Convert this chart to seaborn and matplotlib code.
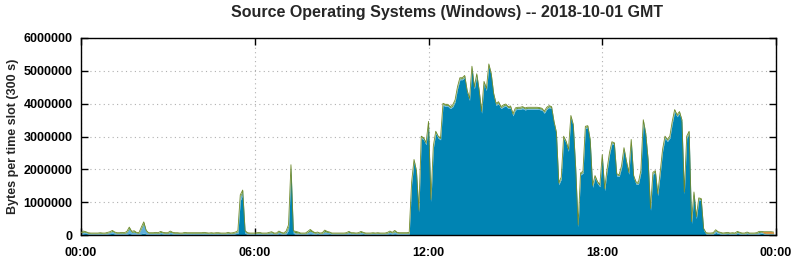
import numpy as np
import pandas as pd
import matplotlib
matplotlib.use("Agg")
import matplotlib.pyplot as plt
import seaborn as sns

# ---- data (values in millions of bytes per 300 s slot, 288 slots) ----
slot_minutes = 5
n_slots = 288

windows_main = [
    0.02,0.04,0.05,0.03,0.02,0.02,0.02,0.02,0.03,0.02,0.02,0.03,
    0.04,0.05,0.03,0.02,0.02,0.03,0.02,0.03,0.05,0.03,0.03,0.02,
    0.02,0.04,0.06,0.03,0.02,0.02,0.02,0.03,0.02,0.04,0.03,0.02,
    0.02,0.04,0.03,0.02,0.02,0.02,0.02,0.03,0.02,0.02,0.03,0.02,
    0.02,0.02,0.02,0.03,0.02,0.02,0.02,0.02,0.03,0.02,0.02,0.02,
    0.02,0.03,0.02,0.02,0.04,0.05,1.05,1.22,0.05,0.02,0.02,0.02,
    0.02,0.02,0.03,0.02,0.02,0.02,0.03,0.02,0.02,0.02,0.04,0.03,
    0.02,0.03,0.15,2.00,0.05,0.02,0.03,0.02,0.02,0.02,0.03,0.04,
    0.03,0.02,0.04,0.02,0.02,0.02,0.03,0.04,0.02,0.02,0.02,0.02,
    0.02,0.02,0.02,0.03,0.03,0.02,0.02,0.02,0.03,0.04,0.02,0.02,
    0.02,0.02,0.02,0.03,0.02,0.02,0.02,0.03,0.04,0.03,0.04,0.03,
    0.02,0.02,0.02,0.03,0.03,1.55,2.24,1.90,0.70,2.95,2.90,2.75,
    3.40,1.02,2.65,3.10,2.95,2.90,3.95,3.92,3.92,3.85,3.90,4.05,
    4.45,4.73,4.73,4.80,4.35,4.10,5.08,4.45,4.85,4.35,3.71,4.62,
    4.40,5.15,4.85,4.25,3.95,4.00,3.85,3.90,3.93,3.85,3.87,3.63,
    3.81,3.83,3.83,3.85,3.81,3.83,3.83,3.83,3.83,3.83,3.82,3.80,
    3.71,3.83,3.88,3.85,3.40,3.07,1.53,1.70,2.95,2.80,2.55,3.58,
    3.30,1.98,0.25,1.83,1.88,3.25,3.27,2.85,1.45,1.75,1.57,1.47,
    2.39,1.35,1.95,2.45,2.78,2.75,1.80,1.78,2.05,2.60,2.20,1.85,
    2.85,1.75,1.55,1.55,1.90,3.45,3.05,2.25,0.75,1.85,1.90,1.20,
    1.85,2.55,2.95,2.85,2.95,3.40,3.76,3.60,3.70,3.45,1.25,2.95,
    3.10,0.35,1.25,0.50,1.07,1.05,0.15,0.03,0.02,0.02,0.03,0.08,
    0.05,0.03,0.02,0.03,0.04,0.02,0.02,0.02,0.05,0.03,0.02,0.02,
    0.04,0.02,0.02,0.02,0.02,0.03,0.06,0.03,0.02,0.02,0.02,0.02,
]

windows_light = [
    0.03,0.05,0.03,0.02,0.02,0.02,0.02,0.02,0.02,0.02,0.02,0.03,
    0.04,0.06,0.04,0.03,0.03,0.03,0.03,0.05,0.14,0.05,0.06,0.04,
    0.03,0.15,0.28,0.08,0.03,0.03,0.03,0.03,0.03,0.04,0.03,0.03,
    0.03,0.05,0.03,0.03,0.03,0.02,0.02,0.03,0.03,0.03,0.02,0.03,
    0.03,0.03,0.03,0.03,0.03,0.02,0.03,0.02,0.02,0.03,0.02,0.02,
    0.02,0.03,0.02,0.03,0.03,0.05,0.12,0.10,0.05,0.03,0.02,0.02,
    0.02,0.03,0.03,0.02,0.02,0.02,0.03,0.05,0.02,0.02,0.05,0.03,
    0.02,0.05,0.10,0.08,0.05,0.04,0.03,0.02,0.02,0.02,0.05,0.08,
    0.05,0.03,0.03,0.02,0.03,0.08,0.05,0.03,0.02,0.02,0.02,0.02,
    0.02,0.02,0.03,0.05,0.02,0.03,0.02,0.03,0.05,0.02,0.02,0.02,
    0.02,0.03,0.02,0.02,0.02,0.02,0.02,0.03,0.05,0.03,0.06,0.03,
    0.03,0.03,0.03,0.02,0.03,0.03,0.03,0.03,0.03,0.03,0.03,0.03,
    0.03,0.03,0.03,0.03,0.03,0.03,0.03,0.03,0.03,0.03,0.03,0.03,
    0.03,0.03,0.03,0.03,0.03,0.03,0.03,0.03,0.03,0.03,0.03,0.03,
    0.03,0.03,0.03,0.03,0.03,0.03,0.03,0.03,0.03,0.03,0.03,0.03,
    0.03,0.03,0.03,0.03,0.03,0.03,0.03,0.03,0.03,0.03,0.03,0.03,
    0.03,0.03,0.03,0.03,0.03,0.03,0.03,0.03,0.03,0.03,0.03,0.03,
    0.03,0.03,0.03,0.03,0.03,0.03,0.03,0.03,0.03,0.03,0.03,0.03,
    0.03,0.03,0.03,0.03,0.03,0.03,0.03,0.03,0.03,0.03,0.03,0.03,
    0.03,0.03,0.03,0.03,0.03,0.03,0.03,0.03,0.03,0.03,0.03,0.03,
    0.03,0.03,0.03,0.03,0.03,0.03,0.03,0.03,0.03,0.03,0.03,0.03,
    0.03,0.03,0.03,0.03,0.03,0.03,0.03,0.02,0.02,0.02,0.02,0.05,
    0.03,0.03,0.02,0.02,0.02,0.02,0.03,0.02,0.03,0.03,0.02,0.02,
    0.03,0.02,0.02,0.02,0.03,0.05,0.03,0.02,0.02,0.02,0.02,0.02,
]

windows_green = [
    0.02,0.03,0.02,0.02,0.02,0.02,0.02,0.02,0.02,0.02,0.02,0.02,
    0.02,0.03,0.02,0.02,0.02,0.02,0.02,0.03,0.05,0.03,0.04,0.02,
    0.02,0.05,0.06,0.03,0.02,0.02,0.02,0.02,0.02,0.03,0.02,0.02,
    0.02,0.03,0.02,0.02,0.02,0.02,0.02,0.02,0.02,0.02,0.02,0.02,
    0.02,0.02,0.02,0.02,0.02,0.02,0.02,0.02,0.02,0.02,0.02,0.02,
    0.02,0.02,0.02,0.02,0.02,0.03,0.05,0.05,0.03,0.02,0.02,0.02,
    0.02,0.02,0.02,0.02,0.02,0.02,0.02,0.03,0.02,0.02,0.03,0.02,
    0.02,0.04,0.06,0.06,0.03,0.05,0.03,0.02,0.02,0.02,0.03,0.05,
    0.03,0.02,0.02,0.02,0.02,0.05,0.03,0.02,0.02,0.02,0.02,0.02,
    0.02,0.02,0.02,0.03,0.02,0.02,0.02,0.02,0.03,0.02,0.02,0.02,
    0.02,0.02,0.02,0.02,0.02,0.02,0.02,0.02,0.03,0.02,0.04,0.02,
    0.02,0.02,0.02,0.02,0.02,0.03,0.03,0.03,0.03,0.03,0.03,0.03,
    0.03,0.03,0.03,0.03,0.03,0.03,0.03,0.03,0.03,0.03,0.03,0.03,
    0.03,0.03,0.03,0.03,0.03,0.03,0.03,0.03,0.03,0.03,0.03,0.03,
    0.03,0.03,0.03,0.03,0.03,0.03,0.03,0.03,0.03,0.03,0.03,0.03,
    0.03,0.03,0.03,0.03,0.03,0.03,0.03,0.03,0.03,0.03,0.03,0.03,
    0.03,0.03,0.03,0.03,0.03,0.03,0.03,0.03,0.03,0.03,0.03,0.03,
    0.03,0.03,0.03,0.03,0.03,0.03,0.03,0.03,0.03,0.03,0.03,0.03,
    0.03,0.03,0.03,0.03,0.03,0.03,0.03,0.03,0.03,0.03,0.03,0.03,
    0.03,0.03,0.03,0.03,0.03,0.03,0.03,0.03,0.03,0.03,0.03,0.03,
    0.03,0.03,0.03,0.03,0.03,0.03,0.03,0.03,0.03,0.03,0.03,0.03,
    0.03,0.03,0.03,0.03,0.03,0.03,0.02,0.02,0.02,0.02,0.02,0.03,
    0.02,0.02,0.02,0.02,0.02,0.02,0.02,0.02,0.03,0.02,0.02,0.02,
    0.02,0.02,0.02,0.02,0.02,0.03,0.02,0.02,0.02,0.02,0.02,0.02,
]

windows_orange = [0.0] * 283 + [0.03, 0.04, 0.04, 0.04, 0.03]

series_names = ["Windows 10", "Windows 7", "Windows 8", "Windows XP"]
series_colors = ["#0084b3", "#5fb0dc", "#5e9330", "#e8730e"]
x_tick_labels = ["00:00", "06:00", "12:00", "18:00", "00:00"]
y_tick_values = [0, 1000000, 2000000, 3000000, 4000000, 5000000, 6000000]

title = "Source Operating Systems (Windows) -- 2018-10-01 GMT"
ylabel = "Bytes per time slot (300 s)"

# ---- build table ----
hours = np.arange(n_slots) * slot_minutes / 60.0
df = pd.DataFrame({
    "hour": hours,
    series_names[0]: np.array(windows_main) * 1e6,
    series_names[1]: np.array(windows_light) * 1e6,
    series_names[2]: np.array(windows_green) * 1e6,
    series_names[3]: np.array(windows_orange) * 1e6,
})
df["total"] = df[series_names].sum(axis=1)

sns.set_style("white")
plt.rcParams["font.family"] = ["Liberation Sans", "DejaVu Sans"]

fig = plt.figure(figsize=(7.94, 2.60), dpi=100)
ax = fig.add_axes([81 / 794, 25 / 260, 695 / 794, 197 / 260])

ax.stackplot(df["hour"], [df[s] for s in series_names],
             colors=series_colors, linewidth=0.0, zorder=2)
sns.lineplot(data=df, x="hour", y="total", ax=ax, color="#6f8a2c",
             linewidth=0.6, zorder=3)

ax.set_xlim(0, 24)
ax.set_ylim(0, 6000000)
ax.set_xticks([0, 6, 12, 18, 24])
ax.set_xticklabels(x_tick_labels, fontsize=9, fontweight="bold")
ax.set_yticks(y_tick_values)
ax.set_yticklabels([str(v) for v in y_tick_values], fontsize=9, fontweight="bold")
ax.set_xlabel("")
ax.set_ylabel(ylabel, fontsize=9, fontweight="bold", labelpad=3)

ax.grid(True, color="#b0b0b0", linestyle=(0, (1, 3)), linewidth=0.8, zorder=1)
ax.set_axisbelow(True)
ax.tick_params(direction="in", length=5, width=1, top=True, right=True,
               bottom=True, left=True, colors="black", pad=6)
ax.tick_params(axis="x", pad=9)
for sp in ax.spines.values():
    sp.set_visible(True)
    sp.set_color("black")
    sp.set_linewidth(1.0)

fig.suptitle(title, fontsize=11.5, fontweight="bold", x=(232 + 662) / 2 / 794, y=0.98, va="top")

fig.savefig("out.png", dpi=100)
